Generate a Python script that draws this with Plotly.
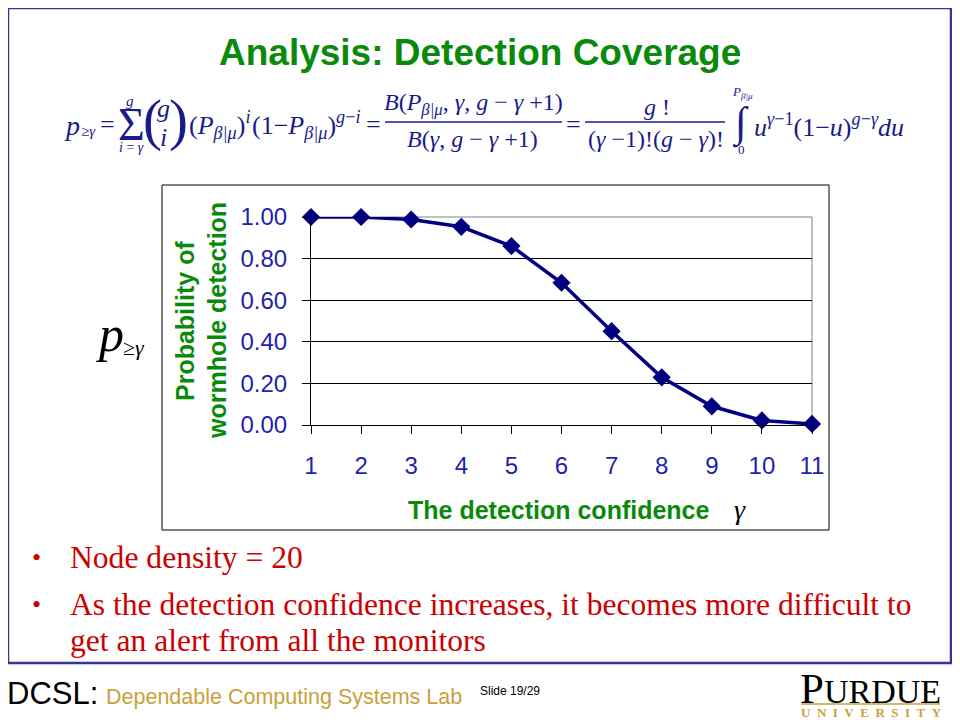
import plotly.graph_objects as go

# ---- data ----
gamma = [1, 2, 3, 4, 5, 6, 7, 8, 9, 10, 11]
prob = [1.00, 1.00, 0.988, 0.953, 0.86, 0.684, 0.451, 0.229, 0.09, 0.022, 0.005]
y_ticks = [0.0, 0.2, 0.4, 0.6, 0.8, 1.0]
y_tick_labels = ["0.00", "0.20", "0.40", "0.60", "0.80", "1.00"]

W, H = 960, 720
OFF = 8  # page body margin
L, R, T, B = 311, 812, 217, 425  # plot area in screen pixels


def px(x):
    return (x - L) / (R - L)


def py(y):
    return (B - y) / (B - T)


fig = go.Figure()
fig.add_trace(go.Scatter(
    x=gamma, y=prob, mode="lines+markers",
    line=dict(color="#000080", width=3.5),
    marker=dict(symbol="diamond", size=14, color="#000080"),
    cliponaxis=False, showlegend=False, hoverinfo="x+y",
))

NAVY = "#1a1a8a"
GREEN = "#0a8a0a"
RED = "#cc0000"
GOLD = "#c9a13a"
TICK = "#1f1fb0"

ann = []


def text(x, y, s, size, color="black", family="Liberation Sans", xa="center", ya="middle", **kw):
    ann.append(dict(x=px(x), y=py(y), xref="paper", yref="paper", text=s, showarrow=False,
                    font=dict(size=size, color=color, family=family), xanchor=xa, yanchor=ya, **kw))


# title
text(480, 52, "<b>Analysis: Detection Coverage</b>", 37, GREEN)

# formula pieces
SER = "Liberation Serif"
text(62, 125, "<i>p</i>", 28, NAVY, SER, xa="left")
text(79, 131, "<i>≥γ</i>", 15, NAVY, SER, xa="left")
text(107, 124, "=", 26, NAVY, SER)
text(131, 124, "Σ", 46, NAVY, SER)
text(130, 101, "<i>g</i>", 15, NAVY, SER)
text(131, 147, "<i>i</i> = <i>γ</i>", 14, NAVY, SER)
text(152, 120, "(", 57, NAVY, SER)
text(163, 108, "<i>g</i>", 26, NAVY, SER)
text(163, 137, "<i>i</i>", 26, NAVY, SER)
text(178, 120, ")", 57, NAVY, SER)
text(219, 125, "(<i>P</i><sub><i>β|μ</i></sub>)<sup><i>i</i></sup>", 26, NAVY, SER)
text(306, 125, "(1−<i>P</i><sub><i>β|μ</i></sub>)<sup><i>g</i>−<i>i</i></sup>", 26, NAVY, SER)
text(373, 124, "=", 26, NAVY, SER)
text(473, 104, "<i>B</i>(<i>P</i><sub><i>β|μ</i></sub>, <i>γ</i>, <i>g</i> − <i>γ</i> +1)", 24, NAVY, SER)
text(472, 139, "<i>B</i>(<i>γ</i>, <i>g</i> − <i>γ</i> +1)", 24, NAVY, SER)
text(573, 124, "=", 26, NAVY, SER)
text(657, 107, "<i>g</i> !", 24, NAVY, SER)
text(656, 139, "(<i>γ</i> −1)!(<i>g</i> − <i>γ</i>)!", 24, NAVY, SER)
text(740, 123, "∫", 42, NAVY, SER)
text(742, 93, "<i>P</i><sub><i>β|μ</i></sub>", 13, NAVY, SER)
text(741, 149, "0", 13, NAVY, SER)
text(829, 125, "<i>u</i><sup><i>γ</i>−1</sup>(1−<i>u</i>)<sup><i>g</i>−<i>γ</i></sup><i>du</i>", 26, NAVY, SER)

# left label p>=gamma
text(94, 334, "<i>p</i>", 50, "black", SER, xa="left")
text(121, 347, "≥<i>γ</i>", 22, "black", SER, xa="left")

# axis titles
text(185, 321, "<b>Probability of</b>", 25, GREEN, textangle=-90)
text(217, 321, "<b>wormhole detection</b>", 25, GREEN, textangle=-90)
text(559, 510, "<b>The detection confidence</b>", 25, GREEN)
text(740, 509, "<i>γ</i>", 28, "black", SER)

# bullets
BS = 31.6
text(30, 557, "•", 26, RED, SER, xa="left")
text(68, 557, "Node density = 20", BS, RED, SER, xa="left")
text(30, 604, "•", 26, RED, SER, xa="left")
text(68, 604, "As the detection confidence increases, it becomes more difficult to", BS, RED, SER, xa="left")
text(68, 640, "get an alert from all the monitors", BS, RED, SER, xa="left")

# footer
text(5, 693, "DCSL:", 31, "black", xa="left")
text(104, 697, "Dependable Computing Systems Lab", 21.5, GOLD, xa="left")
text(478, 691, "Slide 19/29", 12, "black", xa="left")
text(870, 688, "P<span style='font-size:34px'>URDUE</span>", 43, "black", SER)
text(871, 712, "<b>U&nbsp;&nbsp;N&nbsp;&nbsp;I&nbsp;&nbsp;V&nbsp;&nbsp;E&nbsp;&nbsp;R&nbsp;&nbsp;S&nbsp;&nbsp;I&nbsp;&nbsp;T&nbsp;&nbsp;Y</b>",
     13, GOLD, SER)

shapes = [
    # slide border
    dict(type="rect", xref="paper", yref="paper", x0=px(8), x1=px(951), y0=py(8), y1=py(663),
         line=dict(color="#33339a", width=2.5), layer="below"),
    # chart box
    dict(type="rect", xref="paper", yref="paper", x0=px(162), x1=px(829), y0=py(185), y1=py(530),
         line=dict(color="black", width=1), layer="below"),
    # plot area top / right border in gray
    dict(type="line", xref="paper", yref="paper", x0=0, x1=1, y0=1, y1=1,
         line=dict(color="#808080", width=1), layer="below"),
    dict(type="line", xref="paper", yref="paper", x0=1, x1=1, y0=0, y1=1,
         line=dict(color="#808080", width=1), layer="below"),
    # formula fraction bars
    dict(type="line", xref="paper", yref="paper", x0=px(385), x1=px(562), y0=py(122), y1=py(122),
         line=dict(color=NAVY, width=1.3)),
    dict(type="line", xref="paper", yref="paper", x0=px(585), x1=px(725), y0=py(122), y1=py(122),
         line=dict(color=NAVY, width=1.3)),
    # Purdue gold rule
    dict(type="line", xref="paper", yref="paper", x0=px(801), x1=px(940), y0=py(704), y1=py(704),
         line=dict(color=GOLD, width=1.5)),
]

fig.update_layout(
    width=W, height=H,
    margin=dict(l=L - OFF, r=W - (R - OFF), t=T - OFF, b=H - (B - OFF), pad=0),
    paper_bgcolor="white", plot_bgcolor="white",
    annotations=ann, shapes=shapes,
    xaxis=dict(range=[1, 11], tickmode="array", tickvals=gamma, ticks="outside", ticklen=8,
               tickcolor="black", showline=True, linecolor="black", linewidth=1,
               showgrid=False, zeroline=False,
               tickfont=dict(family="Liberation Sans", size=24, color=TICK),
               ticklabelstandoff=11),
    yaxis=dict(range=[0, 1], tickmode="array", tickvals=y_ticks, ticktext=y_tick_labels,
               ticks="outside", ticklen=8, tickcolor="black",
               showline=True, linecolor="black", linewidth=1,
               showgrid=True, gridcolor="black", gridwidth=1, zeroline=False,
               tickfont=dict(family="Liberation Sans", size=24, color=TICK),
               ticklabelstandoff=10),
)

fig.write_html("out.html")
